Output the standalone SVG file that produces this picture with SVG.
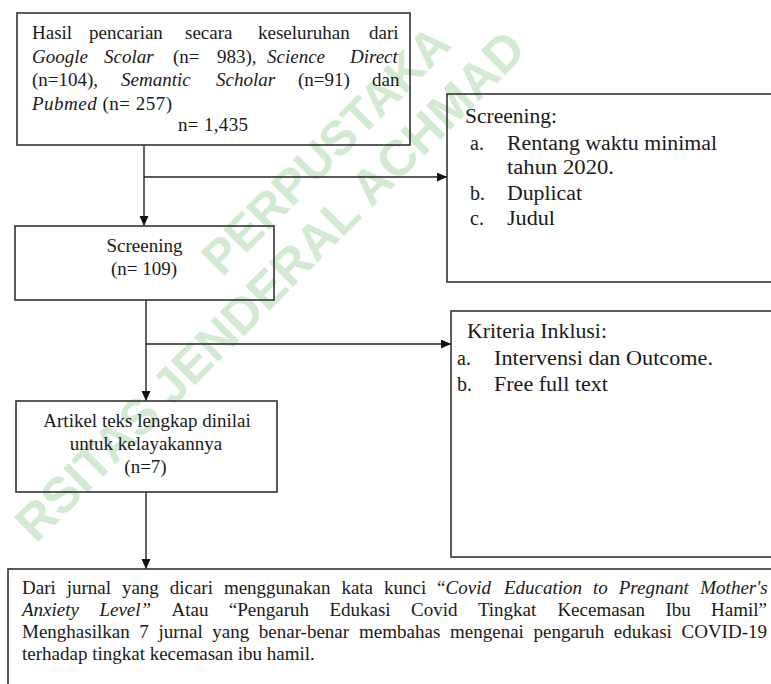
<svg xmlns="http://www.w3.org/2000/svg" width="771" height="684" viewBox="0 0 771 684">
<style>
.box{fill:none;stroke:#333;stroke-width:1.6}
.t{font-family:"Liberation Serif","Times New Roman",serif;font-size:19px;fill:#1a1a1a}
.r{font-size:20px}
.i{font-style:italic}
.c{text-anchor:middle}
.wm{font-family:"Liberation Sans",Arial,sans-serif;font-weight:bold;fill:#d2ead2;dominant-baseline:central}
.con{stroke:#222;stroke-width:1.4;fill:none}
</style>
<defs>
<marker id="ah" markerWidth="11" markerHeight="10" refX="10" refY="4.5" orient="auto" markerUnits="userSpaceOnUse"><path d="M0,0 L10,4.5 L0,9 Z" fill="#111"/></marker>
</defs>
<rect width="771" height="684" fill="#fff"/>
<g id="watermark">
<text class="wm" font-size="50" transform="translate(24,532) rotate(-45)">RSITAS JENDERAL ACHMAD</text>
<text class="wm" font-size="48" transform="translate(210,266) rotate(-45)">PERPUSTAKA</text>
</g>
<g id="connectors">
<path class="con" d="M144,145 V226" marker-end="url(#ah)"/>
<path class="con" d="M144,177 H447" marker-end="url(#ah)"/>
<path class="con" d="M146,300 V401" marker-end="url(#ah)"/>
<path class="con" d="M146,344 H451" marker-end="url(#ah)"/>
<path class="con" d="M146,492 V569" marker-end="url(#ah)"/>
</g>
<g id="search">
<rect class="box" x="17" y="13" width="393" height="132"/>
<text class="t" y="39"><tspan x="32">Hasil</tspan><tspan x="89">pencarian</tspan><tspan x="185">secara</tspan><tspan x="258">keseluruhan</tspan><tspan x="369">dari</tspan></text>
<text class="t" y="62.5"><tspan x="32" class="i">Google</tspan><tspan x="104" class="i">Scolar</tspan><tspan x="173">(n=</tspan><tspan x="217">983),</tspan><tspan x="267" class="i">Science</tspan><tspan x="350" class="i">Direct</tspan></text>
<text class="t" y="86"><tspan x="32">(n=104),</tspan><tspan x="121" class="i">Semantic</tspan><tspan x="216" class="i">Scholar</tspan><tspan x="298">(n=91)</tspan><tspan x="372">dan</tspan></text>
<text class="t" y="110" x="32" textLength="140" lengthAdjust="spacing"><tspan class="i">Pubmed</tspan> (n= 257)</text>
<text class="t" y="131" x="178" textLength="70" lengthAdjust="spacing">n= 1,435</text>
</g>
<g id="screening-criteria">
<rect class="box" x="447" y="94" width="340" height="188"/>
<text class="t r" x="465" y="122.5" textLength="92" lengthAdjust="spacingAndGlyphs">Screening:</text>
<text class="t r" x="470" y="150">a.</text>
<text class="t r" x="507" y="150" textLength="210" lengthAdjust="spacingAndGlyphs">Rentang waktu minimal</text>
<text class="t r" x="507" y="174" textLength="107" lengthAdjust="spacingAndGlyphs">tahun 2020.</text>
<text class="t r" x="470" y="200">b.</text>
<text class="t r" x="507" y="200" textLength="75" lengthAdjust="spacingAndGlyphs">Duplicat</text>
<text class="t r" x="470" y="225">c.</text>
<text class="t r" x="507" y="225" textLength="48" lengthAdjust="spacingAndGlyphs">Judul</text>
</g>
<g id="screening">
<rect class="box" x="15" y="226" width="259" height="74"/>
<text class="t c" x="144.5" y="251.5">Screening</text>
<text class="t c" x="144" y="275">(n= 109)</text>
</g>
<g id="inclusion">
<rect class="box" x="451" y="311" width="340" height="246"/>
<text class="t r" x="467" y="338" textLength="140" lengthAdjust="spacingAndGlyphs">Kriteria Inklusi:</text>
<text class="t r" x="457" y="365">a.</text>
<text class="t r" x="494" y="365" textLength="219" lengthAdjust="spacingAndGlyphs">Intervensi dan Outcome.</text>
<text class="t r" x="457" y="391">b.</text>
<text class="t r" x="494" y="391" textLength="114" lengthAdjust="spacingAndGlyphs">Free full text</text>
</g>
<g id="fulltext">
<rect class="box" x="16" y="401" width="261" height="91"/>
<text class="t c" x="147" y="427">Artikel teks lengkap dinilai</text>
<text class="t c" x="146" y="450">untuk kelayakannya</text>
<text class="t c" x="145.5" y="472.5">(n=7)</text>
</g>
<g id="result">
<rect class="box" x="8" y="569" width="780" height="130"/>
<text class="t" y="594"><tspan x="22">Dari</tspan><tspan x="66.7">jurnal</tspan><tspan x="121.9">yang</tspan><tspan x="169.7">dicari</tspan><tspan x="223.9">menggunakan</tspan><tspan x="341.4">kata</tspan><tspan x="384">kunci</tspan><tspan x="437.1">“<tspan class="i">Covid</tspan></tspan><tspan x="504" class="i">Education</tspan><tspan x="593" class="i">to</tspan><tspan x="618.7" class="i">Pregnant</tspan><tspan x="700.3" class="i">Mother's</tspan></text>
<text class="t" y="616"><tspan x="22" class="i">Anxiety</tspan><tspan x="99.4" class="i">Level”</tspan><tspan x="171.5">Atau</tspan><tspan x="228.8">“Pengaruh</tspan><tspan x="329.4">Edukasi</tspan><tspan x="411">Covid</tspan><tspan x="477.9">Tingkat</tspan><tspan x="557.4">Kecemasan</tspan><tspan x="665.4">Ibu</tspan><tspan x="711.1">Hamil”</tspan></text>
<text class="t" y="638"><tspan x="22">Menghasilkan</tspan><tspan x="139.3">7</tspan><tspan x="158.4">jurnal</tspan><tspan x="212.3">yang</tspan><tspan x="258.8">benar-benar</tspan><tspan x="359.1">membahas</tspan><tspan x="450">mengenai</tspan><tspan x="533.5">pengaruh</tspan><tspan x="613.8">edukasi</tspan><tspan x="681.5">COVID-19</tspan></text>
<text class="t" x="22" y="660">terhadap tingkat kecemasan ibu hamil.</text>
</g>
</svg>
